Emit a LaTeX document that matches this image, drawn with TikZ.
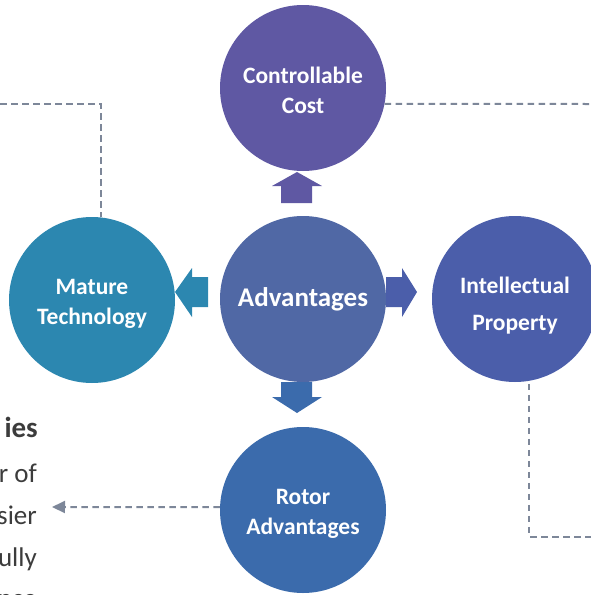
\documentclass[tikz,border=0pt]{standalone}
\usepackage{fontspec}
\setmainfont{Carlito}
\usetikzlibrary{arrows.meta}

\definecolor{cpurple}{HTML}{5F58A3}
\definecolor{cmid}{HTML}{5068A5}
\definecolor{cteal}{HTML}{2C87B0}
\definecolor{cindigo}{HTML}{4B5EAA}
\definecolor{cblue}{HTML}{3B6BAC}
\definecolor{cdash}{HTML}{7D8799}
\definecolor{ctext}{HTML}{3C3C3C}

\tikzset{
  bubble/.style={circle, fill=#1, draw=none, minimum size=166pt, inner sep=0pt,
    text=white, align=center, font=\fontsize{23.5}{30}\selectfont\bfseries},
  bubtext/.style={text=white, align=center, inner sep=0pt,
    font=\fontsize{23.5}{30}\selectfont\bfseries},
  link/.style={draw=cdash, line width=2pt, dash pattern=on 6.5pt off 4.5pt},
  bodyline/.style={anchor=base east, inner sep=0pt, text=ctext,
    font=\fontsize{27}{32}\selectfont},
}

\begin{document}
\begin{tikzpicture}[x=1pt, y=-1pt]
\useasboundingbox (0,0) rectangle (591,595);
\clip (0,0) rectangle (591,595);

% circles
\node[bubble=cpurple, label={[bubtext, yshift=-2pt]center:{Controllable\\Cost}}] (cost) at (303,88) {};
\node[bubble=cmid, font=\fontsize{27}{30}\selectfont\bfseries] (adv) at (303,299) {Advantages};
\node[bubble=cteal, label={[bubtext, yshift=-4pt]center:{Mature\\Technology}}] (mature) at (92,300) {};
\node[bubble=cindigo, label={[bubtext, yshift=-7pt, font=\fontsize{23.5}{37}\selectfont\bfseries]center:{Intellectual\\Property}}] (ip) at (515,299) {};
\node[bubble=cblue, label={[bubtext, yshift=-4pt]center:{Rotor\\Advantages}}] (rotor) at (303,510) {};

% block arrows around the centre
\fill[cpurple] (281,203) -- (281,186) -- (272,186) -- (297,172) -- (322,186) -- (312,186) -- (312,203) -- cycle;
\fill[cblue]   (281,382) -- (281,397) -- (272,397) -- (297,413) -- (322,397) -- (312,397) -- (312,382) -- cycle;
\fill[cindigo] (386,277) -- (402,277) -- (402,268) -- (417,292) -- (402,317) -- (402,307) -- (386,307) -- cycle;
\fill[cteal]   (208,277) -- (192,277) -- (192,268) -- (175,292) -- (192,317) -- (192,307) -- (208,307) -- cycle;

% dashed leader lines
\coordinate (tlend) at (0,104);
\coordinate (trend) at (591,104);
\coordinate (brend) at (591,537);
\coordinate (blend) at (52,507);
\draw[link] (tlend) -| (mature.84);
\draw[link] (cost.-11) -- (trend);
\draw[link, shorten <=3pt] (ip.-80) |- (brend);
\draw[link, -{Triangle[length=13pt,width=12pt]}, cdash] (rotor.178) -- (blend);

% text column on the left
\node[anchor=base east, inner sep=0pt, text=ctext, font=\fontsize{29}{32}\selectfont\bfseries] (head) at (38,437) {ies};
\node[bodyline] (l1) at (37,482) {r of};
\node[bodyline] (l2) at (37,524) {sier};
\node[bodyline] (l3) at (37,566) {ully};
\node[bodyline] (l4) at (37,607) {nce};
\end{tikzpicture}
\end{document}
